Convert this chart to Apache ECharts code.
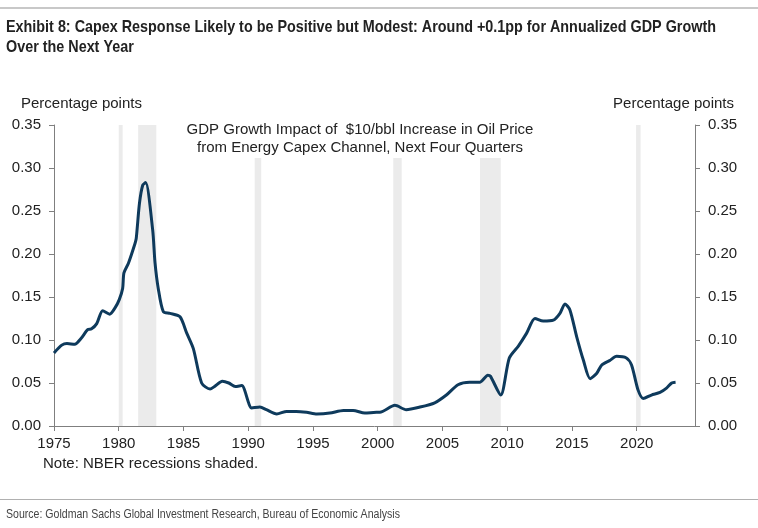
<!DOCTYPE html>
<html><head><meta charset="utf-8">
<script src="https://cdn.jsdelivr.net/npm/echarts@6/dist/echarts.min.js"></script>
<style>html,body{margin:0;padding:0;background:#fff}#c{width:758px;height:528px}</style>
</head><body><div id="c"></div>
<script>
const years = [1975.0,1975.6,1976.0,1976.6,1977.1,1977.6,1977.9,1978.3,1978.76,1979.3,1979.7,1980.04,1980.3,1980.4,1980.74,1981.25,1981.35,1981.6,1981.85,1982.08,1982.62,1982.8,1983.05,1983.44,1983.96,1984.73,1985.25,1985.76,1986.4,1987.05,1987.4,1988.0,1988.5,1989.0,1989.5,1990.27,1990.9,1991.4,1992.2,1992.97,1993.7,1994.5,1995.3,1996.3,1997.35,1998.1,1999.0,1999.9,2000.17,2001.33,2002.2,2003.26,2004.4,2005.3,2006.2,2007.1,2007.9,2008.5,2008.7,2009.5,2010.16,2010.86,2011.5,2012.14,2012.78,2013.56,2014.07,2014.46,2014.84,2015.36,2015.87,2016.4,2016.9,2017.3,2017.9,2018.45,2019.2,2019.6,2020.1,2020.5,2021.14,2021.8,2022.3,2022.7,2023.0];
const impact = [0.085,0.094,0.096,0.095,0.102,0.112,0.113,0.119,0.134,0.130,0.137,0.147,0.160,0.178,0.189,0.212,0.218,0.259,0.280,0.283,0.228,0.190,0.160,0.133,0.131,0.127,0.108,0.090,0.050,0.043,0.046,0.052,0.050,0.046,0.047,0.021,0.022,0.019,0.014,0.017,0.017,0.016,0.014,0.015,0.018,0.018,0.015,0.016,0.016,0.024,0.019,0.022,0.027,0.036,0.048,0.051,0.051,0.059,0.058,0.036,0.079,0.093,0.108,0.125,0.122,0.123,0.131,0.142,0.135,0.104,0.077,0.055,0.061,0.071,0.076,0.081,0.079,0.071,0.042,0.032,0.036,0.039,0.044,0.050,0.051];
const recessionStart = [1980.0,1981.5,1990.5,2001.2,2007.9,2019.95];
const recessionEnd   = [1980.3,1982.9,1991.0,2001.85,2009.5,2020.3];

const chart = echarts.init(document.getElementById('c'));
const FONT = '"Liberation Sans", Arial, sans-serif';
const axisGray = '#7f7f7f';
const yAxisCommon = {
  type:'value', min:0, max:0.35, interval:0.05,
  axisLine:{show:true, lineStyle:{color:axisGray, width:1}},
  axisTick:{show:true, length:5, lineStyle:{color:axisGray}},
  splitLine:{show:false},
  axisLabel:{color:'#222', fontFamily:FONT, fontSize:15, margin:13, formatter:v=>v.toFixed(2)},
  nameGap:14
};
chart.setOption({
  animation:false,
  backgroundColor:'#fff',
  graphic:[
    {type:'rect', shape:{x:0,y:7,width:758,height:2}, style:{fill:'#c8c8c8'}},
    {type:'text', x:6, y:17, scaleX:0.845, style:{text:'Exhibit 8: Capex Response Likely to be Positive but Modest: Around +0.1pp for Annualized GDP Growth\nOver the Next Year', font:'bold 17px "Liberation Sans", Arial, sans-serif', fill:'#222', lineHeight:20}},
    {type:'text', x:360, y:121, z:100, style:{text:'GDP Growth Impact of  $10/bbl Increase in Oil Price\nfrom Energy Capex Channel, Next Four Quarters', align:'center', verticalAlign:'top', font:'15px "Liberation Sans", Arial, sans-serif', fill:'#222', lineHeight:18, backgroundColor:'#fff', padding:[0,8,1,8]}},
    {type:'text', left:43, top:456, style:{text:'Note: NBER recessions shaded.', font:'15px "Liberation Sans", Arial, sans-serif', fill:'#222'}},
    {type:'rect', shape:{x:0,y:499,width:758,height:1}, style:{fill:'#b0b0b0'}},
    {type:'text', x:6, y:508, scaleX:0.845, style:{text:'Source: Goldman Sachs Global Investment Research, Bureau of Economic Analysis', font:'12.5px "Liberation Sans", Arial, sans-serif', fill:'#444'}}
  ],
  grid:{left:54, right:63, top:125, bottom:102, containLabel:false},
  xAxis:{
    type:'value', min:1975, max:2024.5, interval:5,
    axisLine:{show:true, onZero:false, lineStyle:{color:axisGray}},
    axisTick:{show:true, length:5, lineStyle:{color:axisGray}},
    splitLine:{show:false},
    axisLabel:{color:'#222', fontFamily:FONT, fontSize:15, margin:10, showMaxLabel:false, formatter:v=> (v<=2020? String(v):'')}
  },
  yAxis:[
    Object.assign({}, yAxisCommon, {position:'left', name:'Percentage points', nameLocation:'end', nameTextStyle:{color:'#222', fontFamily:FONT, fontSize:15, align:'left', padding:[0,0,0,-33]}}),
    Object.assign({}, yAxisCommon, {position:'right', name:'Percentage points', nameLocation:'end', nameTextStyle:{color:'#222', fontFamily:FONT, fontSize:15, align:'right', padding:[0,-39,0,0]}})
  ],
  series:[{
    type:'line', xAxisIndex:0, yAxisIndex:0,
    data: years.map((y,i)=>[y, impact[i]]),
    showSymbol:false, smooth:0.25,
    lineStyle:{color:'#0e3a5c', width:3},
    markArea:{
      silent:true,
      itemStyle:{color:'#ebebeb'},
      data: recessionStart.map((s,i)=>[{xAxis:s},{xAxis:recessionEnd[i]}])
    },
    z:3
  }]
});
</script></body></html>
